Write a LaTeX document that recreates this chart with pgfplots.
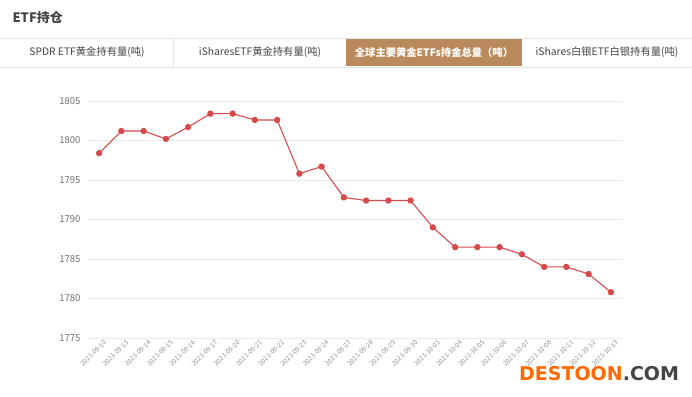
\documentclass[border=0pt]{standalone}
\usepackage{fontspec}
\setmainfont{Noto Sans CJK SC}
\usepackage{pgfplots}
\pgfplotsset{compat=1.18}
\definecolor{linered}{HTML}{D64A4D}
\definecolor{gridc}{HTML}{EBEBEB}
\definecolor{tabbrown}{HTML}{BB8A5C}
\definecolor{borderc}{HTML}{E3E3E3}
\definecolor{txtc}{HTML}{444444}
\definecolor{tickc}{HTML}{6E6E6E}
\definecolor{wmorange}{HTML}{FF6A00}
\begin{document}
\begin{tikzpicture}
\begin{scope}[x=1pt,y=1pt]
\fill[white] (0,0) rectangle (692,396);
\useasboundingbox (0,0) rectangle (692,396);
% title
\node[anchor=west,font=\bfseries\fontsize{13}{15}\selectfont,text=txtc] at (9,378) {ETF持仓};
% tabs
\fill[tabbrown] (346,330) rectangle (522,357);
\draw[borderc,line width=0.8pt] (0,358) -- (692,358);
\draw[borderc,line width=0.8pt] (0,329) -- (692,329);
\draw[borderc,line width=0.8pt] (173,329) -- (173,358);
\node[font=\fontsize{10.3}{12}\selectfont,text=txtc] at (87,343.5) {SPDR ETF黄金持有量(吨)};
\node[font=\fontsize{10.3}{12}\selectfont,text=txtc] at (260,343.5) {iSharesETF黄金持有量(吨)};
\node[font=\bfseries\fontsize{10.3}{12}\selectfont,text=white] at (434,343.5) {全球主要黄金ETFs持金总量（吨）};
\node[font=\fontsize{10.3}{12}\selectfont,text=txtc] at (607,343.5) {iShares白银ETF白银持有量(吨)};
\end{scope}
\begin{axis}[
  at={(88pt,58pt)}, anchor=south west,
  scale only axis, width=534pt, height=237pt,
  xmin=-0.5, xmax=23.5, ymin=1775, ymax=1805,
  ytick={1775,1780,...,1805},
  xtick={0,...,23},
  xticklabels={2021-09-10,2021-09-13,2021-09-14,2021-09-15,2021-09-16,2021-09-17,2021-09-20,2021-09-21,2021-09-22,2021-09-23,2021-09-24,2021-09-27,2021-09-28,2021-09-29,2021-09-30,2021-10-01,2021-10-04,2021-10-05,2021-10-06,2021-10-07,2021-10-08,2021-10-11,2021-10-12,2021-10-13},
  axis line style={draw=none},
  major tick length=0pt,
  ymajorgrids, grid style={gridc, line width=0.8pt},
  /pgf/number format/assume math mode=true,
  /pgf/number format/1000 sep={},
  yticklabel style={font=\fontsize{9.5}{11}\selectfont, text=tickc, xshift=-4pt},
  xticklabel style={font=\fontsize{6.5}{7}\selectfont, text=tickc!75, rotate=45, anchor=north east, inner sep=1pt, xshift=3pt, yshift=-3pt},
]
\addplot[linered, line width=1.1pt, mark=*, mark size=2.6pt, mark options={fill=linered, draw=linered}] coordinates {
(0,1798.4) (1,1801.2) (2,1801.2) (3,1800.2) (4,1801.7) (5,1803.4) (6,1803.4) (7,1802.6) (8,1802.6) (9,1795.8) (10,1796.7) (11,1792.8) (12,1792.4) (13,1792.4) (14,1792.4) (15,1789.0) (16,1786.5) (17,1786.5) (18,1786.5) (19,1785.6) (20,1784.0) (21,1784.0) (22,1783.1) (23,1780.8)
};
\end{axis}
% watermark
\node[anchor=west,inner sep=0,font=\fontspec{DejaVu Sans}\bfseries\fontsize{19}{22}\selectfont] at (519pt,22pt) {\textcolor{wmorange}{DESTOON}\textcolor{txtc}{.COM}};
\end{tikzpicture}
\end{document}
